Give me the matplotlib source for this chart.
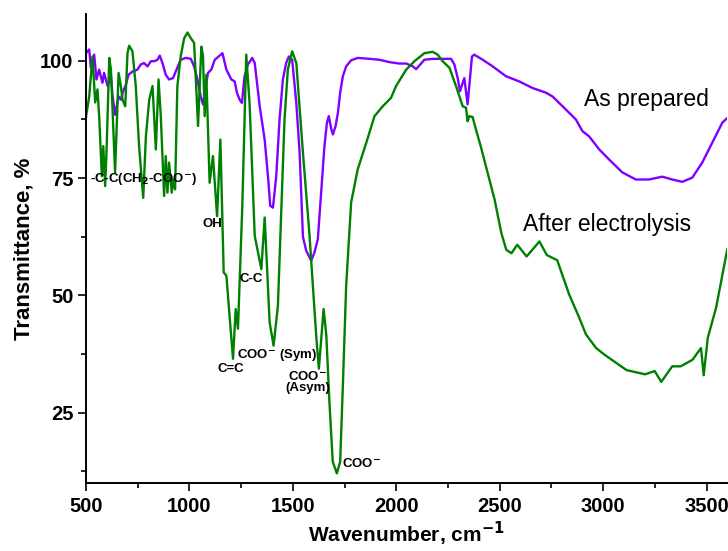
import matplotlib
matplotlib.use("Agg")
import matplotlib.pyplot as plt
from matplotlib.ticker import MultipleLocator

plt.rcParams['font.family'] = ['Liberation Sans', 'DejaVu Sans']

# FTIR spectra (wavenumber cm-1, transmittance %)
prep_wn = [500, 516, 524, 540, 551, 564, 580, 588, 605, 621, 629, 641, 658, 669, 680, 693,
           706, 725, 749, 765, 781, 798, 814, 830, 846, 857, 870, 886, 902, 921, 938, 958,
           983, 1007, 1023, 1039, 1055, 1066, 1090, 1106, 1123, 1160, 1179, 1203, 1219,
           1230, 1243, 1254, 1267, 1283, 1304, 1316, 1340, 1364, 1380, 1391, 1404, 1420,
           1436, 1452, 1468, 1481, 1497, 1517, 1533, 1549, 1565, 1589, 1605, 1621, 1637,
           1653, 1665, 1674, 1686, 1694, 1707, 1718, 1729, 1742, 1758, 1782, 1814, 1871,
           1919, 1967, 2015, 2048, 2080, 2096, 2136, 2176, 2265, 2281, 2297, 2308, 2329,
           2345, 2353, 2366, 2377, 2418, 2466, 2530, 2594, 2658, 2723, 2755, 2820, 2868,
           2900, 2932, 2981, 3037, 3093, 3158, 3222, 3286, 3334, 3383, 3431, 3479, 3527,
           3576, 3600]
prep_t = [101.6, 102.4, 98.5, 101.3, 96, 98.1, 95.3, 97.4, 94.6, 96.7, 92.4, 88.5, 92.4,
          91.7, 93.5, 94.9, 97, 97.7, 98.1, 99.2, 99.5, 98.8, 99.9, 99.9, 100.2, 101.1,
          99.5, 97, 96, 96.3, 98.1, 100.2, 100.6, 100.4, 98.8, 96, 92.4, 90.7, 97.4, 98.1,
          100.2, 101.6, 98.1, 96, 95.6, 93.2, 91.7, 91, 96.7, 99.2, 100.6, 99.5, 90.3,
          83.2, 75.4, 69.1, 68.7, 75.4, 87.5, 96, 99.5, 100.9, 100.2, 91, 80.4, 62.5,
          59.5, 57.4, 59.2, 62, 71.9, 81.8, 86.8, 88.2, 85.4, 84.3, 86.1, 88.9, 93.2,
          96.7, 98.8, 100.1, 100.6, 100.4, 100.2, 99.7, 99.4, 99.4, 98.8, 98.2, 100.2,
          100.4, 100.4, 99.2, 96.3, 93.5, 96.3, 90.7, 94.6, 100.9, 101.3, 100.2, 98.8,
          96.7, 95.6, 94.2, 93.2, 92.4, 89.6, 87.5, 85, 83.9, 81.1, 78.6, 76.2, 74.7,
          74.7, 75.3, 74.7, 74.2, 75.1, 78.3, 82.5, 86.8, 87.8]

elec_wn = [500, 516, 532, 545, 556, 564, 577, 584, 593, 600, 613, 621, 641, 658, 669, 677,
           690, 701, 709, 725, 741, 757, 777, 790, 806, 822, 838, 851, 862, 878, 886, 894,
           902, 915, 921, 931, 942, 958, 975, 991, 1007, 1023, 1042, 1058, 1066, 1074,
           1082, 1098, 1114, 1134, 1150, 1166, 1179, 1192, 1211, 1224, 1235, 1256, 1267,
           1275, 1291, 1316, 1332, 1348, 1364, 1388, 1407, 1428, 1460, 1476, 1497, 1517,
           1549, 1581, 1597, 1613, 1626, 1649, 1662, 1677, 1693, 1713, 1729, 1742, 1758,
           1782, 1814, 1855, 1895, 1935, 1975, 1999, 2048, 2088, 2136, 2176, 2200, 2224,
           2257, 2289, 2321, 2337, 2345, 2353, 2369, 2385, 2410, 2475, 2508, 2532, 2557,
           2585, 2630, 2692, 2728, 2778, 2835, 2884, 2917, 2966, 3006, 3055, 3113, 3203,
           3249, 3281, 3334, 3375, 3432, 3473, 3486, 3506, 3546, 3600]
elec_t = [87.9, 92.4, 100.9, 91.1, 93.9, 88.2, 75.4, 81.8, 73.3, 81.1, 100.6, 98.1, 76.2,
          97.4, 94.6, 91.7, 90.3, 101.6, 103.2, 102, 94.6, 81.8, 70.8, 83.9, 91.7, 94.6,
          81.1, 96, 88.2, 71.2, 79.7, 71.9, 78.3, 71.9, 74.7, 72.6, 94.6, 100.9, 104.8,
          106, 104.8, 103.8, 86.1, 103, 101, 88.2, 97, 74, 79.7, 66.9, 83.2, 54.9, 54.2,
          47.1, 36.5, 47.1, 42.9, 69.1, 87.5, 101.3, 91, 62.7, 59.2, 55.6, 66.6, 44.3,
          39.3, 47.8, 87.5, 98.1, 102, 99.5, 80.4, 62.7, 52.1, 41.5, 34.4, 47.1, 41.5,
          27.3, 14.6, 12.1, 14.6, 30.8, 52.1, 69.8, 76.9, 82.5, 88.2, 90.3, 92.1, 94.6,
          98.1, 99.9, 101.6, 101.9, 101.3, 99.9, 98.5, 94.6, 90.3, 90, 87.1, 88.2, 88,
          85.4, 81.5, 70.5, 63.3, 59.7, 59, 60.8, 58.3, 61.5, 58.6, 57.5, 50.3, 45.3,
          41.7, 38.8, 37.4, 35.9, 34.1, 33.2, 33.9, 31.6, 34.9, 34.9, 36.3, 38.8, 33, 41,
          47.4, 59.8]

fig = plt.figure(figsize=(7.28, 5.51), dpi=100)
ax = fig.add_axes([0.118, 0.123, 0.881, 0.852])

ax.plot(prep_wn, prep_t, color='#8000ff', lw=1.7)
ax.plot(elec_wn, elec_t, color='#008000', lw=1.7)

ax.set_xlim(500, 3600)
ax.set_ylim(10, 110)
ax.xaxis.set_major_locator(MultipleLocator(500))
ax.xaxis.set_minor_locator(MultipleLocator(250))
ax.set_yticks([25, 50, 75, 100])
ax.set_yticks([12.5, 37.5, 62.5, 87.5], minor=True)

for s in ['top', 'right']:
    ax.spines[s].set_visible(False)
for s in ['left', 'bottom']:
    ax.spines[s].set_linewidth(1.4)
ax.tick_params(which='major', length=6, width=1.2, labelsize=14.5, pad=3)
ax.tick_params(axis='x', which='major', pad=4)
ax.tick_params(which='minor', length=3.5, width=1.2)
for lab in ax.get_xticklabels() + ax.get_yticklabels():
    lab.set_fontweight('bold')

ax.set_xlabel('Wavenumber, cm$^{\\mathbf{-1}}$', fontsize=15, fontweight='bold', labelpad=3)
ax.set_ylabel('Transmittance, %', fontsize=16, fontweight='bold', labelpad=4)

# series names
ax.text(2908, 91.7, 'As prepared', fontsize=16.5, va='center')
ax.text(2614, 65.2, 'After electrolysis', fontsize=16.5, va='center')

# band assignments
small = dict(fontsize=9.5, fontweight='bold', va='center')
ax.text(519, 74.7, '-C-C(CH$_\\mathbf{2}$-COO$^\\mathbf{-}$)', ha='left', **small)
ax.text(1113, 65.2, 'OH', ha='center', **small)
ax.text(1299, 53.5, 'C-C', ha='center', **small)
ax.text(1202, 34.4, 'C=C', ha='center', **small)
ax.text(1422, 37.3, 'COO$^\\mathbf{-}$ (Sym)', ha='center', **small)
ax.text(1571, 31.5, 'COO$^\\mathbf{-}$\n(Asym)', ha='center', linespacing=0.9, **small)
ax.text(1740, 14.2, 'COO$^\\mathbf{-}$', ha='left', **small)

fig.savefig('out.png', dpi=100)
